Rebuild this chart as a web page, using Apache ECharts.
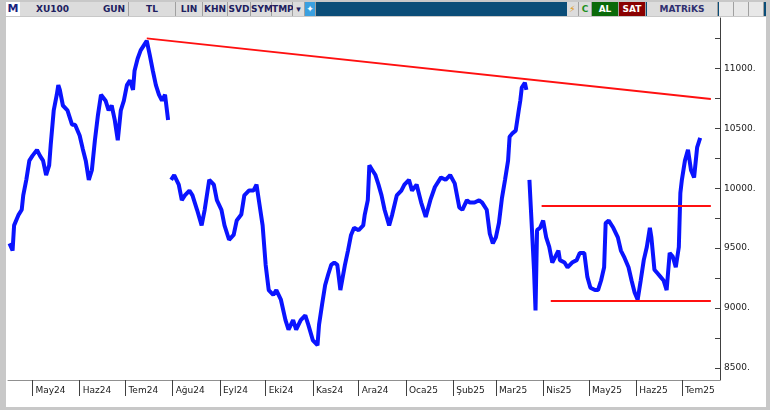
<!DOCTYPE html>
<html>
<head>
<meta charset="utf-8">
<script src="https://cdn.jsdelivr.net/npm/echarts@6/dist/echarts.min.js"></script>
<style>
  body { margin: 0; width: 770px; height: 410px; background: #c8c8c8; overflow: hidden; font-family: "DejaVu Sans", Verdana, sans-serif; }
  #bar { position: absolute; left: 6px; top: 2px; width: 760px; height: 14px; background: #0a4d78; }
  .b { position: absolute; top: 2px; height: 14px; background: #dcdcdc; border-right: 1px solid #a0a0a0; font-size: 9px; font-weight: bold; color: #202060; line-height: 14px; text-align: center; }
  #chart { position: absolute; left: 6px; top: 17px; width: 760px; height: 390px; background: #fff; }
</style>
</head>
<body>
<div id="bar"></div>
<div class="b" style="left:6px;width:14px;color:#1a237e;background:#fff;font-size:11px">M</div>
<div class="b" style="left:20px;text-align:left;padding-left:16px;width:64px">XU100</div>
<div class="b" style="left:100px;width:28px">GUN</div>
<div class="b" style="left:129px;width:46px">TL</div>
<div class="b" style="left:176px;width:26px">LIN</div>
<div class="b" style="left:203px;width:24px">KHN</div>
<div class="b" style="left:228px;width:22px">SVD</div>
<div class="b" style="left:251px;width:20px">SYM</div>
<div class="b" style="left:272px;width:20px">TMP</div>
<div class="b" style="left:293px;width:11px">▾</div>
<div class="b" style="left:305px;width:10px;background:#3aa0e0;color:#fff">✦</div>
<div class="b" style="left:567px;width:11px;color:#e09000">⚡</div>
<div class="b" style="left:579px;width:12px;color:#209020">C</div>
<div class="b" style="left:592px;width:26px;background:#0a6a0a;color:#fff">AL</div>
<div class="b" style="left:619px;width:26px;background:#8a0000;color:#fff">SAT</div>
<div class="b" style="left:647px;width:70px;color:#303070">MATRiKS</div>
<div class="b" style="left:719px;width:14px;background:#e8e8e8"></div>
<div class="b" style="left:734px;width:14px;background:#e8e8e8"></div>
<div class="b" style="left:749px;width:14px;background:#e8e8e8"></div>
<div id="chart"></div>
<script>
// XU100 closes, sampled; dayOffsets are calendar days from startDate
var startDate = '2024-04-16';
var dayOffsets = [0,2,3,6,8,9,11,13,15,18,20,22,24,26,27,29,31,32,33,35,38,41,43,46,48,50,52,54,56,58,60,63,65,67,69,71,73,75,77,79,81,82,84,86,88,90,92,94,96,98,100,102,104,
  106,108,111,113,115,118,120,123,126,128,131,134,136,139,141,144,147,149,152,154,157,160,162,164,166,168,170,173,175,178,181,183,186,188,191,194,196,199,202,203,205,207,209,211,213,215,217,220,222,224,226,229,232,233,235,236,238,240,242,244,246,249,251,254,257,259,262,264,267,270,273,276,279,283,286,289,292,295,297,300,302,305,308,310,313,315,317,319,321,323,325,327,328,330,332,334,335,336,338,339,
  341,342,344,345,346,348,350,352,354,356,358,360,361,364,366,369,372,374,377,379,381,384,386,388,390,391,393,396,399,401,403,406,408,410,412,414,416,418,420,421,423,425,427,429,431,433,435,437,439,440,441,443,445,447,449,451,453];
var closes = [9540,9480,9690,9780,9820,9940,10070,10230,10270,10320,10270,10230,10110,10190,10360,10650,10780,10860,10820,10690,10650,10530,10530,10440,10330,10230,10070,10150,10400,10610,10780,10730,10650,10690,10570,10400,10650,10730,10860,10900,10820,10980,11080,11150,11190,11230,11110,10980,10860,10780,10730,10780,10570,
  10070,10110,10030,9900,9940,9980,9940,9820,9690,9820,10070,10030,9900,9820,9690,9570,9610,9730,9780,9940,9980,9980,10030,9860,9690,9360,9150,9110,9150,9070,8900,8820,8900,8820,8900,8940,8860,8730,8690,8860,9030,9190,9280,9360,9380,9360,9150,9360,9480,9610,9670,9650,9690,9780,9900,10190,10150,10110,10030,9940,9820,9690,9780,9940,9980,10030,10070,9980,10030,9880,9760,9900,10010,10090,10070,10110,10040,9840,9820,9900,9880,9880,9900,9880,9820,9620,9540,9590,9710,9920,10070,10230,10430,10460,10480,10650,10730,10840,10880,10820,
  10070,9820,9320,8980,9650,9670,9730,9590,9510,9380,9430,9480,9400,9380,9340,9380,9400,9460,9460,9260,9170,9150,9150,9230,9340,9710,9730,9670,9590,9480,9430,9340,9230,9130,9070,9230,9400,9510,9670,9590,9320,9290,9260,9230,9150,9460,9430,9340,9510,9960,10070,10230,10320,10150,10090,10340,10420];
var gapsAfter = [104, 339];
var trendTop = [[90, 11250], [460, 10745]];
var resistance = [[349, 9850], [460, 9850]];
var support = [[355, 9065], [460, 9065]];
var months = ['Oca','Şub','Mar','Nis','May','Haz','Tem','Ağu','Eyl','Eki','Kas','Ara'];
var yTicks = [8500,8750,9000,9250,9500,9750,10000,10250,10500,10750,11000,11250];
var yLabels = [8500,9000,9500,10000,10500,11000];

var t0 = new Date(startDate + 'T00:00:00Z').getTime();
var day = 86400000;
var data = [];
dayOffsets.forEach(function (d, i) {
  data.push([d, closes[i]]);
  if (gapsAfter.indexOf(d) >= 0) data.push([d + 1, null]);
});
var monthStarts = [];
for (var m = 4; m <= 18; m++) monthStarts.push(Math.round((Date.UTC(2024, m, 1) - t0) / day));
var seg = function (p) { return [{ coord: p[0] }, { coord: p[1] }]; };

var chart = echarts.init(document.getElementById('chart'));
chart.setOption({
  animation: false,
  grid: { left: 2, top: 1, right: 46, bottom: 27 },
  xAxis: {
    type: 'value',
    min: -1,
    max: 466,
    splitLine: { show: false },
    axisLine: { onZero: false, lineStyle: { color: '#909090' } },
    axisTick: { customValues: monthStarts, length: 16, lineStyle: { color: '#404040' } },
    axisLabel: {
      customValues: monthStarts,
      align: 'left', padding: [0, 0, 0, 3], margin: 6, fontSize: 9, color: '#202020',
      fontFamily: 'DejaVu Sans', showMinLabel: true, showMaxLabel: true,
      formatter: function (v) { var d = new Date(t0 + v * day + day / 2); return months[d.getUTCMonth()] + String(d.getUTCFullYear()).slice(2); }
    }
  },
  yAxis: {
    type: 'value', position: 'right', min: 8400, max: 11420,
    splitLine: { show: false },
    axisLine: { show: true, onZero: false, lineStyle: { color: '#404040' } },
    axisTick: { inside: true, customValues: yTicks, length: 5, lineStyle: { color: '#404040' } },
    axisLabel: { customValues: yLabels, fontSize: 9, color: '#202020', fontFamily: 'DejaVu Sans', margin: 4, formatter: function (v) { return v + '.'; } }
  },
  series: [{
    type: 'line', data: data, showSymbol: false, connectNulls: false,
    lineStyle: { color: '#0a14ff', width: 4 },
    markLine: {
      symbol: 'none', silent: true, label: { show: false },
      lineStyle: { color: '#ff1010', width: 2, type: 'solid' },
      data: [seg(trendTop), seg(resistance), seg(support)]
    }
  }]
});
</script>
</body>
</html>
